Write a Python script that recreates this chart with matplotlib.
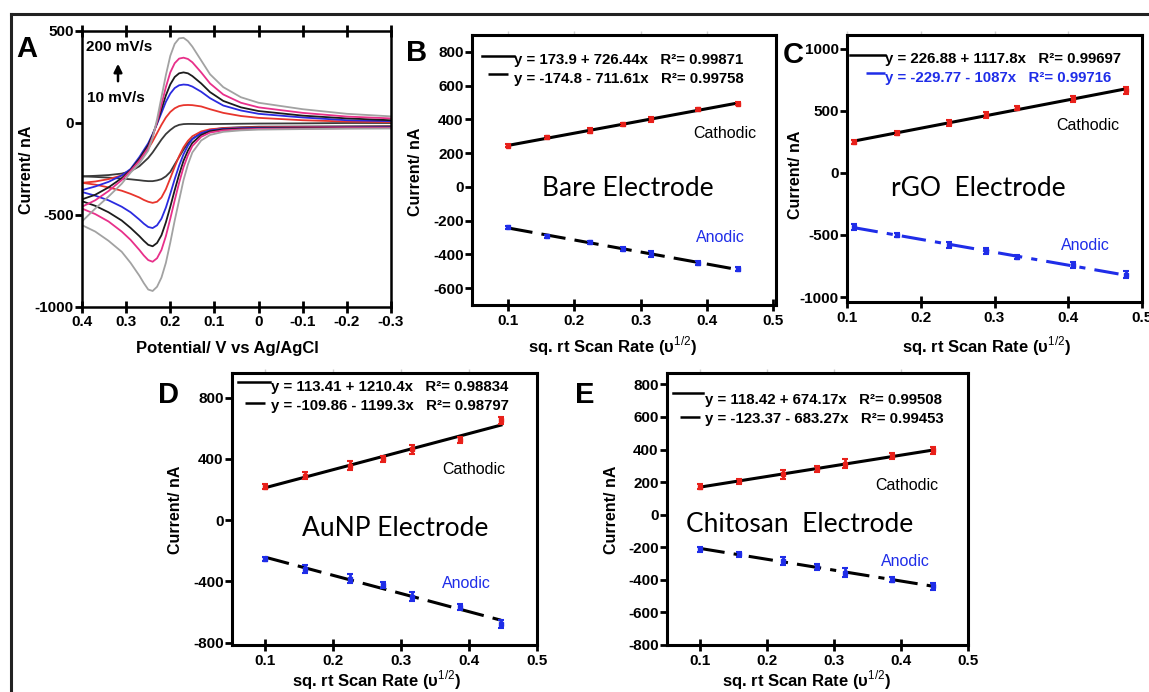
import numpy as np
import matplotlib
matplotlib.use('Agg')
import matplotlib.pyplot as plt
from matplotlib.lines import Line2D

plt.rcParams['font.family'] = ['Liberation Sans', 'DejaVu Sans']
plt.rcParams['mathtext.fontset'] = 'custom'
plt.rcParams['mathtext.rm'] = 'Liberation Sans'
plt.rcParams['mathtext.bf'] = 'Liberation Sans:bold'
plt.rcParams['axes.unicode_minus'] = False

W, H = 1149, 692

# ---------------- Panel A : cyclic voltammograms ----------------
fwd_V = [0.40, 0.37, 0.34, 0.31, 0.29, 0.27, 0.26, 0.25, 0.24, 0.23, 0.22, 0.21, 0.20,
         0.19, 0.18, 0.17, 0.16, 0.15, 0.13, 0.11, 0.08, 0.04, 0.0, -0.1, -0.2, -0.3]
rev_V = [-0.3, -0.2, -0.1, 0.0, 0.04, 0.08, 0.11, 0.13, 0.15, 0.16, 0.17, 0.18, 0.19,
         0.20, 0.21, 0.22, 0.23, 0.24, 0.25, 0.27, 0.29, 0.31, 0.34, 0.37, 0.40]

cv_rates = ['10 mV/s', '25 mV/s', '50 mV/s', '75 mV/s', '100 mV/s', '200 mV/s']
cv_colors = ['#3a3a3a', '#e8352d', '#2b2be0', '#1c1c1c', '#e8308a', '#a2a2a2']

fwd_I_10 = [-290, -293, -297, -302, -306, -311, -314, -316, -316, -312, -305, -290, -266,
            -225, -185, -145, -110, -85, -55, -38, -27, -23, -20, -19, -18, -17]
fwd_I_25 = [-325, -335, -350, -368, -385, -405, -418, -428, -434, -428, -405, -360, -300,
            -238, -180, -132, -97, -72, -46, -34, -28, -25, -23, -22, -21, -20]
fwd_I_50 = [-375, -395, -420, -455, -485, -525, -547, -565, -571, -556, -520, -460, -385,
            -305, -232, -170, -123, -88, -55, -40, -32, -28, -26, -25, -24, -23]
fwd_I_75 = [-425, -450, -485, -530, -570, -615, -640, -662, -670, -652, -610, -540, -455,
            -365, -280, -205, -150, -108, -65, -45, -35, -31, -29, -27, -26, -25]
fwd_I_100 = [-465, -495, -535, -590, -635, -690, -720, -745, -754, -735, -690, -615, -520,
             -420, -325, -240, -175, -125, -75, -52, -40, -35, -32, -30, -28, -27]
fwd_I_200 = [-555, -590, -640, -700, -760, -830, -870, -905, -913, -890, -840, -760, -650,
             -530, -420, -310, -225, -160, -95, -65, -48, -40, -36, -33, -31, -30]

rev_I_10 = [0, 0, -2, -3, -4, -5, -6, -6, -5, -5, -6, -10, -20,
            -38, -60, -90, -125, -160, -190, -235, -262, -275, -283, -287, -290]
rev_I_25 = [5, 8, 15, 28, 38, 55, 75, 90, 97, 98, 97, 92, 80,
            60, 30, -10, -55, -100, -140, -200, -255, -285, -305, -318, -325]
rev_I_50 = [10, 15, 30, 50, 68, 95, 135, 170, 198, 207, 209, 205, 190,
            160, 115, 55, -5, -60, -110, -185, -250, -285, -320, -345, -365]
rev_I_75 = [15, 25, 40, 65, 85, 120, 168, 215, 255, 270, 275, 270, 250,
            210, 150, 75, 0, -65, -120, -195, -255, -300, -350, -390, -415]
rev_I_100 = [25, 35, 55, 85, 110, 155, 215, 275, 330, 348, 355, 350, 325,
             275, 195, 100, 5, -75, -135, -205, -260, -310, -370, -420, -455]
rev_I_200 = [36, 50, 75, 110, 140, 195, 265, 340, 415, 445, 463, 460, 430,
             365, 260, 140, 20, -80, -150, -220, -270, -330, -400, -465, -535]

# ---------------- Panels B-E : peak current vs sqrt(scan rate) ----------------
x_sqrt = [0.100, 0.158, 0.224, 0.274, 0.316, 0.387, 0.447]
x_sqrt_C = [0.109, 0.168, 0.238, 0.288, 0.330, 0.407, 0.478]

B_cath = [244, 293, 332, 371, 401, 459, 494]
B_cath_err = [8, 10, 14, 10, 16, 10, 10]
B_anod = [-240, -293, -328, -366, -397, -450, -489]
B_anod_err = [8, 10, 10, 12, 16, 10, 12]

C_cath = [250, 320, 400, 465, 525, 595, 665]
C_cath_err = [18, 15, 22, 22, 15, 25, 28]
C_anod = [-435, -500, -580, -630, -680, -745, -820]
C_anod_err = [22, 15, 22, 22, 15, 25, 30]

D_cath = [219, 291, 354, 398, 463, 525, 651]
D_cath_err = [15, 25, 30, 20, 30, 20, 25]
D_anod = [-255, -318, -383, -423, -500, -565, -680]
D_anod_err = [15, 25, 30, 22, 30, 20, 25]

E_cath = [173, 206, 247, 282, 313, 359, 396]
E_cath_err = [15, 15, 28, 20, 28, 18, 22]
E_anod = [-212, -243, -285, -322, -357, -398, -439]
E_anod_err = [15, 15, 25, 20, 28, 18, 22]

eq_B = ['y = 173.9 + 726.44x   R²= 0.99871', 'y = -174.8 - 711.61x   R²= 0.99758']
eq_C = ['y = 226.88 + 1117.8x   R²= 0.99697', 'y = -229.77 - 1087x   R²= 0.99716']
eq_D = ['y = 113.41 + 1210.4x   R²= 0.98834', 'y = -109.86 - 1199.3x   R²= 0.98797']
eq_E = ['y = 118.42 + 674.17x   R²= 0.99508', 'y = -123.37 - 683.27x   R²= 0.99453']

# ---------------- figure ----------------
fig = plt.figure(figsize=(W / 100, H / 100), dpi=100)


def add_ax(l, t, r, b):
    return fig.add_axes([l / W, 1 - b / H, (r - l) / W, (b - t) / H])


def ftext(x, y, s, **kw):
    fig.text(x / W, 1 - y / H, s, **kw)


def fline(x0, x1, y, **kw):
    fig.add_artist(Line2D([x0 / W, x1 / W], [1 - y / H, 1 - y / H], **kw))


# outer frame
fig.add_artist(Line2D([11 / W, 1.0], [1 - 13.5 / H, 1 - 13.5 / H], color='#222222', lw=2.2))
fig.add_artist(Line2D([11 / W, 11 / W], [1 - 13.5 / H, 0], color='#222222', lw=2.2))

TICK_FS = 11
LAB_FS = 11.5


def style_axes(ax, lw=2.2):
    for s in ax.spines.values():
        s.set_linewidth(lw)
        s.set_color('black')
    ax.tick_params(axis='y', direction='out', length=5, width=2, pad=1, labelsize=TICK_FS)
    ax.tick_params(axis='x', direction='inout', length=9, width=2, pad=2, labelsize=TICK_FS)
    for lab in ax.get_xticklabels() + ax.get_yticklabels():
        lab.set_fontweight('bold')


# ---- Panel A ----
axA = add_ax(82, 31, 391, 307)
fwd_sets = [fwd_I_10, fwd_I_25, fwd_I_50, fwd_I_75, fwd_I_100, fwd_I_200]
rev_sets = [rev_I_10, rev_I_25, rev_I_50, rev_I_75, rev_I_100, rev_I_200]
for fI, rI, col, lab in zip(fwd_sets, rev_sets, cv_colors, cv_rates):
    axA.plot(fwd_V, fI, color=col, lw=1.3, label=lab)
    axA.plot(rev_V, rI, color=col, lw=1.3)
axA.set_xlim(0.4, -0.3)
axA.set_ylim(-1000, 500)
axA.set_xticks([0.4, 0.3, 0.2, 0.1, 0, -0.1, -0.2, -0.3])
axA.set_xticklabels(['0.4', '0.3', '0.2', '0.1', '0', '-0.1', '-0.2', '-0.3'])
axA.set_yticks([-1000, -500, 0, 500])
style_axes(axA, lw=1.8)
axA.tick_params(axis='x', top=True, direction='inout', length=8)
axA.tick_params(axis='y', length=5)
ftext(86, 47, '200 mV/s', fontsize=11, fontweight='bold', va='center')
ftext(87, 98, '10 mV/s', fontsize=11, fontweight='bold', va='center')
axA.annotate('', xy=(118 / W, 1 - 61 / H), xytext=(118 / W, 1 - 84 / H),
             xycoords='figure fraction', textcoords='figure fraction',
             arrowprops=dict(arrowstyle='-|>', color='black', lw=1.8, mutation_scale=12))
ftext(27, 49, 'A', fontsize=21, fontweight='bold', ha='center', va='center')
ftext(27, 170, 'Current/ nA', fontsize=LAB_FS, fontweight='bold', rotation=90, ha='center', va='center')
ftext(227, 348, 'Potential/ V vs Ag/AgCl', fontsize=12, fontweight='bold', ha='center', va='center')


def linear_panel(box, xs, cath, cath_err, anod, anod_err, xlim, ylim, yticks,
                 anod_style, anod_line_color, eqs, eq_xy, sample, letter, letter_xy,
                 title, title_xy, cath_xy, anod_xy, ylab_xy, xlab_xy, eq2_color='black',
                 sample_styles=None):
    ax = add_ax(*box)
    for yv, ev, col in ((cath, cath_err, '#e8201a'), (anod, anod_err, '#1f2de8')):
        ax.errorbar(xs, yv, yerr=ev, fmt='s', ms=3, color=col, ecolor=col,
                    elinewidth=2, capsize=2.5, capthick=1.5, zorder=3)
    for yv, ls, col in ((cath, '-', 'black'), (anod, anod_style, anod_line_color)):
        k, c = np.polyfit(xs, yv, 1)
        xx = np.array([xs[0], xs[-1]])
        ax.plot(xx, c + k * xx, color=col, lw=2.2, linestyle=ls, zorder=2)
    ax.set_xlim(*xlim)
    ax.set_ylim(*ylim)
    ax.set_xticks([0.1, 0.2, 0.3, 0.4, 0.5])
    ax.set_xticklabels(['0.1', '0.2', '0.3', '0.4', '0.5'])
    ax.set_yticks(yticks)
    style_axes(ax)
    sec = ax.secondary_xaxis('top')
    sec.set_xticks([0.1, 0.2, 0.3, 0.4])
    sec.tick_params(direction='out', length=3, width=1, color='#d0d0d0', labeltop=False)
    sec.spines['top'].set_visible(False)
    # equations with line samples
    ex, ey = eq_xy
    ftext(ex, ey, eqs[0], fontsize=10.8, fontweight='bold', va='center')
    ftext(ex, ey + 19, eqs[1], fontsize=10.8, fontweight='bold', va='center', color=eq2_color)
    (s0, s1, s2, sy1, sy2) = sample
    st = sample_styles
    fline(s0, s2, sy1, color='black', lw=1.8, linestyle='-')
    fline(s1, s2, sy2, color=st[1], lw=1.8, linestyle=st[0])
    ftext(letter_xy[0], letter_xy[1], letter, fontsize=21, fontweight='bold', ha='center', va='center')
    ftext(title_xy[0], title_xy[1], title, fontsize=19, family='Lato', ha='center', va='center')
    ftext(cath_xy[0], cath_xy[1], 'Cathodic', fontsize=11.5, ha='center', va='center')
    ftext(anod_xy[0], anod_xy[1], 'Anodic', fontsize=11.5, ha='center', va='center', color='#1f2de8')
    ftext(ylab_xy[0], ylab_xy[1], 'Current/ nA', fontsize=LAB_FS, fontweight='bold', rotation=90,
          ha='center', va='center')
    ftext(xlab_xy[0], xlab_xy[1], 'sq. rt Scan Rate (υ$^{1/2}$)', fontsize=12, fontweight='bold',
          ha='center', va='center')
    return ax


dash = (0, (8, 3))
dashdot = (0, (8, 3, 2, 3))

linear_panel((472, 35, 776, 305), x_sqrt, B_cath, B_cath_err, B_anod, B_anod_err,
             (0.045, 0.505), (-700, 900), [-600, -400, -200, 0, 200, 400, 600, 800],
             dash, 'black', eq_B, (514, 60), (482, 488, 514, 56, 74), 'B', (417, 53),
             'Bare Electrode', (628, 188), (725, 133), (720, 238), (415, 172), (613, 346),
             sample_styles=(dash, 'black'))

linear_panel((847, 35, 1142, 302), x_sqrt_C, C_cath, C_cath_err, C_anod, C_anod_err,
             (0.1, 0.5), (-1040, 1110), [-1000, -500, 0, 500, 1000],
             dashdot, '#1f2de8', eq_C, (885, 59), (850, 866, 885, 55, 73), 'C', (793, 55),
             'rGO  Electrode', (978, 188), (1088, 125), (1085, 246), (796, 175), (987, 346),
             eq2_color='#1f2de8', sample_styles=(dashdot, '#1f2de8'))

linear_panel((232, 373, 537, 645), x_sqrt, D_cath, D_cath_err, D_anod, D_anod_err,
             (0.051, 0.5), (-815, 960), [-800, -400, 0, 400, 800],
             dash, 'black', eq_D, (271, 387), (238, 245, 270, 382, 403), 'D', (168, 395),
             'AuNP Electrode', (395, 528), (474, 469), (466, 584), (176, 510), (377, 680),
             sample_styles=(dash, 'black'))

linear_panel((667, 373, 968, 645), x_sqrt, E_cath, E_cath_err, E_anod, E_anod_err,
             (0.05, 0.5), (-800, 870), [-800, -600, -400, -200, 0, 200, 400, 600, 800],
             dashdot, 'black', eq_E, (705, 400), (673, 680, 703, 393, 417), 'E', (585, 395),
             'Chitosan  Electrode', (800, 525), (907, 486), (905, 561), (611, 510), (807, 680),
             sample_styles=(dashdot, 'black'))

fig.savefig('out.png', dpi=100)
